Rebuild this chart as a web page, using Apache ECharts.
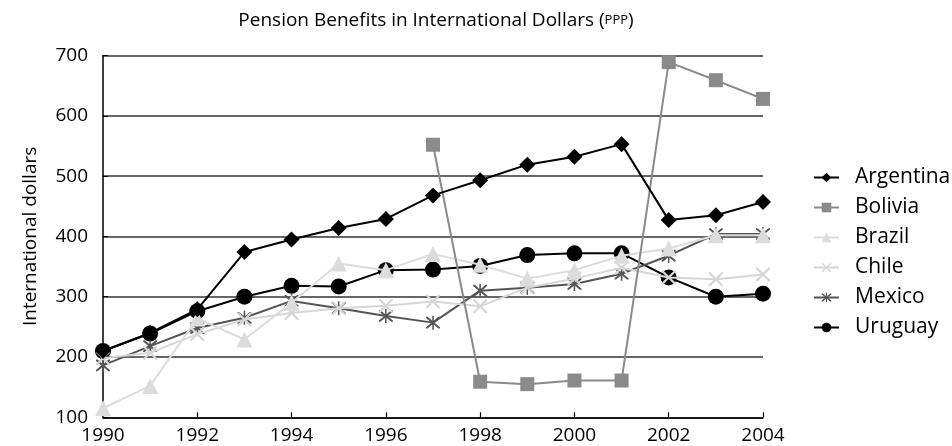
<!DOCTYPE html>
<html>
<head>
<meta charset="utf-8">
<script src="https://cdn.jsdelivr.net/npm/echarts@6/dist/echarts.min.js"></script>
<style>
html,body{margin:0;padding:0;background:#fff;}
#chart{width:952px;height:446px;}
</style>
</head>
<body>
<div id="chart"></div>
<script>
var years = [1990,1991,1992,1993,1994,1995,1996,1997,1998,1999,2000,2001,2002,2003,2004];
var argentina = [210,240,279,374,395,414,429,468,493,519,532,553,427,435,457];
var bolivia   = [null,null,null,null,null,null,null,552,159,155,161,161,689,659,628];
var brazil    = [115,152,264,229,290,355,344,371,353,330,344,368,380,402,402];
var chile     = [198,207,238,262,273,281,285,292,284,315,330,348,332,329,337];
var mexico    = [186,218,248,265,293,281,268,257,310,315,321,338,368,404,404];
var uruguay   = [210,239,276,300,318,317,344,345,351,369,372,372,332,300,305];
var xTicks = [1990,1992,1994,1996,1998,2000,2002,2004];
var yTicks = [100,200,300,400,500,600,700];

var FONT = '"Open Sans", "Noto Sans", sans-serif';

function pairs(arr){
  var out = [];
  for (var i = 0; i < years.length; i++) {
    if (arr[i] !== null) out.push([years[i], arr[i]]);
  }
  return out;
}

var xShape = 'path://M0,0 L2.2,0 L10,7.8 L17.8,0 L20,0 L20,2.2 L12.2,10 L20,17.8 L20,20 L17.8,20 L10,12.2 L2.2,20 L0,20 L0,17.8 L7.8,10 L0,2.2 Z';
var starShape = 'path://M0,0 L2.2,0 L10,7.8 L17.8,0 L20,0 L20,2.2 L12.2,10 L20,17.8 L20,20 L17.8,20 L10,12.2 L2.2,20 L0,20 L0,17.8 L7.8,10 L0,2.2 Z M8.9,-2 L11.1,-2 L11.1,22 L8.9,22 Z';

function mk(name, data, color, symbol, size, z){
  return {
    name: name,
    type: 'line',
    data: pairs(data),
    symbol: symbol,
    symbolSize: size,
    showSymbol: true,
    z: z,
    lineStyle: {color: color, width: 2},
    itemStyle: {color: color, opacity: 1},
    emphasis: {disabled: true},
    animation: false
  };
}

var chart = echarts.init(document.getElementById('chart'), null, {renderer: 'canvas'});
chart.setOption({
  backgroundColor: '#ffffff',
  animation: false,
  title: {
    text: 'Pension Benefits in International Dollars ({s|PPP})',
    left: 431,
    top: 6,
    textAlign: 'center',
    textStyle: {
      fontFamily: FONT, fontSize: 19, fontWeight: 'normal', color: '#000',
      rich: {s: {fontFamily: FONT, fontSize: 13, color: '#000'}}
    }
  },
  legend: {
    orient: 'vertical',
    left: 808,
    top: 162,
    itemWidth: 25,
    itemHeight: 12,
    itemGap: 9,
    data: ['Argentina','Bolivia','Brazil','Chile','Mexico','Uruguay'],
    textStyle: {fontFamily: FONT, fontSize: 21, color: '#000', padding: [0,0,0,11]}
  },
  grid: {left: 103, right: 189, top: 55.5, bottom: 28.7, containLabel: false},
  xAxis: {
    type: 'value',
    min: 1990, max: 2004, interval: 2,
    axisLine: {show: true, lineStyle: {color: '#000', width: 1.5}},
    axisTick: {show: true, inside: true, length: 5, lineStyle: {color: '#000', width: 1.2}},
    splitLine: {show: false},
    axisLabel: {
      fontFamily: FONT, fontSize: 19, color: '#000', margin: 9,
      formatter: function(v){ return xTicks.indexOf(v) >= 0 ? String(v) : ''; }
    }
  },
  yAxis: {
    type: 'value',
    min: 100, max: 700, interval: 100,
    name: 'International dollars',
    nameLocation: 'middle',
    nameGap: 63,
    nameTextStyle: {fontFamily: FONT, fontSize: 19, color: '#000'},
    axisLine: {show: true, lineStyle: {color: '#000', width: 1.5}},
    axisTick: {show: true, inside: true, length: 5, lineStyle: {color: '#000'}},
    splitLine: {show: true, lineStyle: {color: '#333', width: 1.6}},
    axisLabel: {
      fontFamily: FONT, fontSize: 19, color: '#000', margin: 15,
      formatter: function(v){ return yTicks.indexOf(v) >= 0 ? String(v) : ''; }
    }
  },
  series: [
    mk('Argentina', argentina, '#000000', 'diamond', 16, 8),
    mk('Bolivia', bolivia, '#8a8a8a', 'rect', 14, 7),
    mk('Brazil', brazil, '#dcdcdc', 'triangle', 16, 6),
    mk('Chile', chile, '#d6d6d6', xShape, 14, 5),
    mk('Mexico', mexico, '#555555', starShape, 14, 4),
    mk('Uruguay', uruguay, '#000000', 'circle', 16, 3)
  ]
});
</script>
</body>
</html>
